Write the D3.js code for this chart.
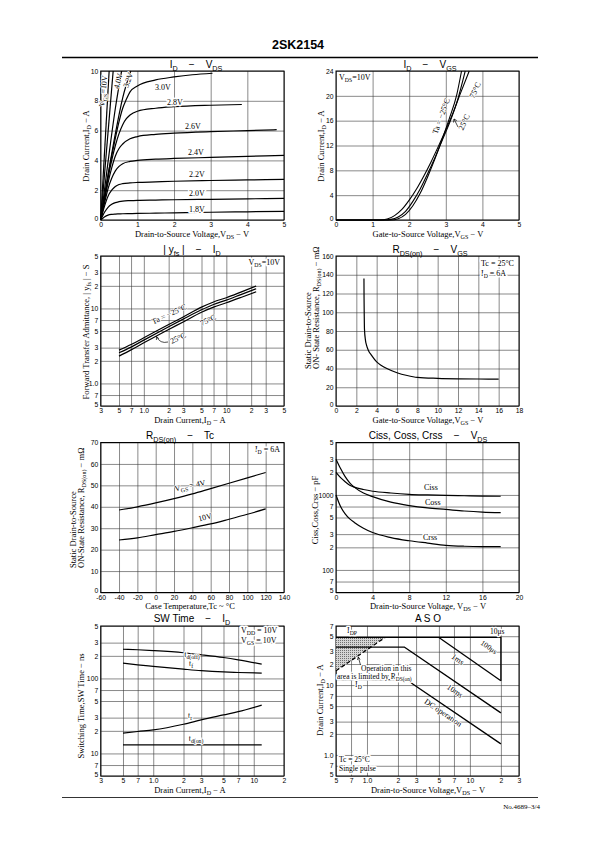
<!DOCTYPE html>
<html><head><meta charset="utf-8">
<script src="https://cdn.jsdelivr.net/npm/d3@7"></script>
<style>body{margin:0;background:#fff}svg{display:block}</style>
</head><body>
<script>
// ---------- DATA ----------
// Panel 1: ID - VDS (x: VDS [V], y: ID [A])
const p1Vgs18x = [0,0.1,0.2,0.3,0.4,0.5,0.6,0.8,1,1.5,2,3,4,5];
const p1Vgs18y = [0,0.2,0.33,0.38,0.4,0.41,0.42,0.43,0.44,0.46,0.48,0.52,0.55,0.58];
const p1Vgs20x = [0,0.1,0.2,0.3,0.4,0.5,0.6,0.8,1,1.5,2,3,4,5];
const p1Vgs20y = [0,0.5,0.85,1.05,1.17,1.23,1.27,1.3,1.32,1.34,1.36,1.39,1.42,1.45];
const p1Vgs22x = [0,0.1,0.2,0.3,0.4,0.5,0.6,0.8,1,1.5,2,3,4,5];
const p1Vgs22y = [0,0.9,1.6,2.0,2.25,2.38,2.44,2.49,2.52,2.56,2.6,2.65,2.69,2.73];
const p1Vgs24x = [0,0.1,0.2,0.3,0.4,0.5,0.6,0.8,1,1.5,2,3,4,5];
const p1Vgs24y = [0,1.1,2.1,2.8,3.3,3.6,3.78,3.93,4.0,4.08,4.13,4.2,4.27,4.34];
const p1Vgs26x = [0,0.1,0.2,0.3,0.4,0.5,0.6,0.8,1,1.5,2,3,4,4.8];
const p1Vgs26y = [0,1.3,2.5,3.5,4.3,4.8,5.1,5.45,5.6,5.75,5.83,5.93,6.0,6.06];
const p1Vgs28x = [0,0.1,0.2,0.3,0.4,0.5,0.6,0.7,0.8,1,1.5,2,3,3.85];
const p1Vgs28y = [0,1.4,2.8,4.0,5.0,5.8,6.4,6.8,7.05,7.3,7.5,7.6,7.7,7.75];
const p1Vgs30x = [0,0.1,0.2,0.3,0.4,0.5,0.6,0.7,0.8,1,1.5,2,2.5,3.05];
const p1Vgs30y = [0,1.5,3.0,4.3,5.5,6.6,7.5,8.1,8.6,9.0,9.4,9.6,9.75,9.85];
const p1Vgs32x = [0,0.2,0.4,0.6,0.82];
const p1Vgs32y = [0,3.0,5.8,8.2,10];
const p1Vgs40x = [0,0.2,0.4,0.57];
const p1Vgs40y = [0,3.9,7.5,10];
const p1Vgs60x = [0,0.34];
const p1Vgs60y = [0,10];
const p1Vgs10x = [0,0.23];
const p1Vgs10y = [0,10];
const p1XTicks = [0,1,2,3,4,5];
const p1YTicks = [0,2,4,6,8,10];

// Panel 2: ID - VGS
const p2TaM25x = [0,1.5,1.7,1.9,2.1,2.3,2.5,2.7,2.9,3.1,3.3,3.43];
const p2TaM25y = [0,0,0.2,0.9,2.3,4.3,6.9,9.8,13.0,16.4,20.2,24];
const p2Ta25x = [0,1.3,1.5,1.7,1.9,2.1,2.3,2.5,2.7,2.9,3.1,3.3,3.53];
const p2Ta25y = [0,0,0.1,0.5,1.4,3.0,5.0,7.4,10.0,12.8,15.6,18.9,24];
const p2Ta75x = [0,1.2,1.4,1.6,1.8,2.0,2.2,2.4,2.6,2.8,3.0,3.2,3.4,3.64];
const p2Ta75y = [0,0,0.15,0.7,1.7,3.2,5.0,7.1,9.4,11.9,14.5,17.3,20.4,24];
const p2XTicks = [0,1,2,3,4,5];
const p2YTicks = [0,4,8,12,16,20,24];

// Panel 3: |yfs| - ID
const p3Id = [0.5,0.7,1,2,3,5,7,10,15,23];
const p3TaM25 = [2.78,3.3,4.06,6.1,7.7,10.4,12.2,13.9,16.5,19.9];
const p3Ta25 = [2.56,3.05,3.78,5.7,7.2,9.6,11.3,12.9,15.3,18.3];
const p3Ta75 = [2.31,2.8,3.48,5.25,6.6,8.9,10.4,11.9,14.0,16.7];
const p3XTicks = [0.3,0.5,0.7,1,2,3,5,7,10,20,30,50];
const p3XLabels = ['3','5','7','1.0','2','3','5','7','10','2','3','5'];
const p3YTicks = [0.5,0.7,1,2,3,5,7,10,20,30,50];
const p3YLabels = ['5','7','1.0','2','3','5','7','10','2','3','5'];

// Panel 4: RDS(on) - VGS
const p4Vgs = [2.75,2.76,2.78,2.8,2.9,3.0,3.2,3.5,4,4.5,5,6,7,8,10,12,14,16];
const p4Rds = [136,115,95,82,70,65,59,54,47,43,40,35.5,32.5,30.5,29.5,29,28.8,28.6];
const p4XTicks = [0,2,4,6,8,10,12,14,16,18];
const p4YTicks = [0,20,40,60,80,100,120,140,160];

// Panel 5: RDS(on) - Tc
const p5Tc = [-40,-20,0,20,40,60,80,100,120];
const p5Vgs4 = [38.5,40,41.8,43.8,46,48.5,51,53.5,56];
const p5Vgs10 = [24.5,25.5,27,28.5,30.2,32,34.2,36.5,39];
const p5XTicks = [-60,-40,-20,0,20,40,60,80,100,120,140];
const p5YTicks = [0,10,20,30,40,50,60,70];

// Panel 6: Ciss, Coss, Crss - VDS
const p6Vds = [0,0.5,1,1.5,2,3,4,6,8,10,12,14,16,18];
const p6Ciss = [2000,1700,1500,1350,1270,1180,1120,1060,1020,1000,985,975,965,960];
const p6Coss = [3000,2250,1750,1450,1270,1060,950,800,720,670,640,610,590,580];
const p6Crss = [1000,700,560,480,430,360,315,270,245,228,213,207,205,205];
const p6XTicks = [0,4,8,12,16,20];
const p6YTicks = [50,70,100,200,300,500,700,1000,2000,3000,5000];
const p6YLabels = ['5','7','100','2','3','5','7','1000','2','3','5'];

// Panel 7: SW Time - ID
const p7Id = [0.5,0.7,1,2,3,5,7,12];
const p7TdOff = [245,241,235,220,207,190,177,155];
const p7Tf = [160,152,145,133,127,122,120,118];
const p7Tr = [18.6,19.6,20.6,24.5,28,32.6,36,44];
const p7TdOn = [13,13,13,13,13,13,13,13];
const p7XTicks = [0.3,0.5,0.7,1,2,3,5,7,10,20];
const p7XLabels = ['3','5','7','1.0','2','3','5','7','10','2'];
const p7YTicks = [5,7,10,20,30,50,70,100,200,300,500];
const p7YLabels = ['5','7','10','2','3','5','7','100','2','3','5'];

// Panel 8: ASO
const p8Us10x = [0.5,20,20];
const p8Us10y = [48,48,11.5];
const p8Ms1x = [5,20];
const p8Ms1y = [48,11.5];
const p8Ms10x = [0.5,2.3,20];
const p8Ms10y = [35,35,4.0];
const p8Dcx = [0.5,2.4,20];
const p8Dcy = [12,12,1.44];
const p8Rdsx = [0.5,1.5];
const p8Rdsy = [16,48];
const p8XTicks = [0.5,0.7,1,2,3,5,7,10,20,30];
const p8XLabels = ['5','7','1.0','2','3','5','7','10','2','3'];
const p8YTicks = [0.5,0.7,1,2,3,5,7,10,20,30,50,70];
const p8YLabels = ['5','7','1.0','2','3','5','7','10','2','3','5','7'];

// ---------- DRAWING ----------
const SANS = "'Liberation Sans', Arial, Helvetica, sans-serif";
const SERIF = "'Liberation Serif', 'Times New Roman', serif";
const svg = d3.select('body').append('svg').attr('width',595).attr('height',842);

function addText(g, x, y, str, o={}) {
  const size = o.size || 8;
  let ty = o.center ? y + size*0.35 : y;
  const t = g.append('text').attr('x', x).attr('y', ty)
    .attr('font-family', o.family || SERIF).attr('font-size', size)
    .attr('text-anchor', o.anchor || 'start').attr('fill', '#000')
    .style('white-space', 'pre');
  if (o.rotate) t.attr('transform', `rotate(${o.rotate},${x},${y})`);
  if (o.halo) t.attr('stroke', '#fff').attr('stroke-width', o.halo).attr('paint-order', 'stroke').attr('stroke-linejoin','round');
  if (o.weight) t.attr('font-weight', o.weight);
  const parts = str.split(/(_\{[^}]*\})/).filter(s => s.length);
  const sh = size * 0.28;
  let sub = false;
  parts.forEach(p => {
    if (p.startsWith('_{')) {
      t.append('tspan').attr('font-size', size*0.72).attr('dy', sub ? 0 : sh).text(p.slice(2, -1));
      sub = true;
    } else {
      const s = t.append('tspan').text(p);
      if (sub) { s.attr('dy', -sh); sub = false; }
    }
  });
  return t;
}

function panel(o) {
  const g = svg.append('g');
  const x = o.x, y = o.y;
  const [x0, x1] = x.range();
  const [y1, y0] = y.range();
  const xa = g.append('g').attr('transform', `translate(0,${y1})`)
    .call(d3.axisBottom(x).tickValues(o.xt).tickFormat((d, i) => o.xl ? o.xl[i] : d)
      .tickSize(-(y1 - y0)).tickPadding(2.5));
  const ya = g.append('g').attr('transform', `translate(${x0},0)`)
    .call(d3.axisLeft(y).tickValues(o.yt).tickFormat((d, i) => o.yl ? o.yl[i] : d)
      .tickSize(-(x1 - x0)).tickPadding(2.5));
  [xa, ya].forEach(a => {
    a.select('.domain').remove();
    a.selectAll('line').attr('stroke', '#3a3a3a').attr('stroke-width', 0.6);
    a.selectAll('text').attr('font-family', SANS).attr('font-size', 6.8).attr('fill', '#000');
  });
  // lift the lowest y label a little so it clears the first x label
  ya.selectAll('.tick').filter((d, i) => i === 0).select('text').attr('dy', '0.05em');
  g.append('rect').attr('x', x0).attr('y', y0).attr('width', x1 - x0).attr('height', y1 - y0)
    .attr('fill', 'none').attr('stroke', '#000').attr('stroke-width', 1);
  return g;
}

function curve(g, x, y, xs, ys, o={}) {
  const line = d3.line().x(d => x(d[0])).y(d => y(d[1])).curve(o.linear ? d3.curveLinear : d3.curveMonotoneX);
  const p = g.append('path').attr('d', line(d3.zip(xs, ys)))
    .attr('fill', 'none').attr('stroke', '#000').attr('stroke-width', o.w || 1.3)
    .attr('stroke-linejoin', 'round');
  if (o.dash) p.attr('stroke-dasharray', o.dash);
  return p;
}

// label placed along a straight segment (p1 -> p2), offset perpendicular
function lineLabel(g, x, y, p1, p2, t, str, off, size) {
  const X1 = x(p1[0]), Y1 = y(p1[1]), X2 = x(p2[0]), Y2 = y(p2[1]);
  const ang = Math.atan2(Y2 - Y1, X2 - X1) * 180 / Math.PI;
  const px = X1 + (X2 - X1) * t, py = Y1 + (Y2 - Y1) * t;
  const gg = g.append('g').attr('transform', `translate(${px},${py}) rotate(${ang})`);
  addText(gg, 0, off, str, {size, anchor: 'middle', center: true, halo: 1.5});
}

// page header / footer
addText(svg, 298, 49, '2SK2154', {family: SANS, size: 12.5, anchor: 'middle', weight: 'bold'});
svg.append('line').attr('x1', 62).attr('x2', 538).attr('y1', 57.5).attr('y2', 57.5).attr('stroke', '#000').attr('stroke-width', 1.3);
svg.append('line').attr('x1', 62).attr('x2', 538).attr('y1', 797.5).attr('y2', 797.5).attr('stroke', '#000').attr('stroke-width', 0.8);
addText(svg, 540, 809, 'No.4689–3/4', {size: 7, anchor: 'end'});

const C1 = [100.7, 284], C2 = [336, 519];
const R1 = [71, 220], R2 = [256, 406], R3 = [442.5, 592.5], R4 = [626, 776];

function titles(cx, by, str) { addText(svg, cx, by, str, {family: SANS, size: 10, anchor: 'middle'}); }
function xTitle(cx, by, str) { addText(svg, cx, by, str, {size: 8.5, anchor: 'middle'}); }
function yTitle(cx, cy, str, anchor='middle') { addText(svg, cx, cy, str, {size: 8.5, anchor, rotate: -90, center: true}); }

// ---- Panel 1 ----
{
  const x = d3.scaleLinear().domain([0, 5]).range(C1);
  const y = d3.scaleLinear().domain([0, 10]).range([R1[1], R1[0]]);
  const g = panel({x, y, xt: p1XTicks, yt: p1YTicks});
  [[p1Vgs18x,p1Vgs18y],[p1Vgs20x,p1Vgs20y],[p1Vgs22x,p1Vgs22y],[p1Vgs24x,p1Vgs24y],[p1Vgs26x,p1Vgs26y],
   [p1Vgs28x,p1Vgs28y],[p1Vgs30x,p1Vgs30y],[p1Vgs32x,p1Vgs32y],[p1Vgs40x,p1Vgs40y],[p1Vgs60x,p1Vgs60y],[p1Vgs10x,p1Vgs10y]]
    .forEach(c => curve(g, x, y, c[0], c[1], {w: 1.2}));
  const lab = [['3.0V',163,87],['2.8V',175,102],['2.6V',193,126],['2.4V',196,152],['2.2V',197,174],['2.0V',197,193],['1.8V',197,209]];
  lab.forEach(l => addText(g, l[1], l[2], l[0], {size: 8, anchor: 'middle', center: true, halo: 3}));
  addText(g, 103, 91, 'V_{GS}=10V', {size: 8, anchor: 'middle', center: true, rotate: -84, halo: 1.5});
  addText(g, 118, 81, '4.0V', {size: 8, anchor: 'middle', center: true, rotate: -76, halo: 1.5});
  addText(g, 128, 80, '3.2V', {size: 8, anchor: 'middle', center: true, rotate: -70, halo: 1.5});
  titles(196, 68, 'I_{D}    −    V_{DS}');
  xTitle(192, 237, 'Drain-to-Source Voltage,V_{DS} − V');
  yTitle(86, 146, 'Drain Current,I_{D} − A');
}

// ---- Panel 2 ----
{
  const x = d3.scaleLinear().domain([0, 5]).range(C2);
  const y = d3.scaleLinear().domain([0, 24]).range([R1[1], R1[0]]);
  const g = panel({x, y, xt: p2XTicks, yt: p2YTicks});
  curve(g, x, y, p2TaM25x, p2TaM25y, {w: 1.1});
  curve(g, x, y, p2Ta25x, p2Ta25y, {w: 1.1});
  curve(g, x, y, p2Ta75x, p2Ta75y, {w: 1.1});
  addText(g, 339, 80, 'V_{DS}=10V', {size: 8, halo: 3});
  addText(g, 441, 116, 'Ta = −25°C', {size: 8, anchor: 'middle', center: true, rotate: -70, halo: 1.2});
  addText(g, 464, 122, '25°C', {size: 8, anchor: 'middle', center: true, rotate: -65, halo: 1.2});
  addText(g, 475, 90, '75°C', {size: 8, anchor: 'middle', center: true, rotate: -65, halo: 1.2});
  g.append('path').attr('d', 'M458,127 L454,119 M454,119 L453.5,122.5 M454,119 L456.8,120.6').attr('stroke', '#000').attr('stroke-width', 0.7).attr('fill', 'none');
  titles(430, 68, 'I_{D}    −    V_{GS}');
  xTitle(428, 237, 'Gate-to-Source Voltage,V_{GS} − V');
  yTitle(321, 146, 'Drain Current,I_{D} − A');
}

// ---- Panel 3 ----
{
  const x = d3.scaleLog().domain([0.3, 50]).range(C1);
  const y = d3.scaleLog().domain([0.5, 50]).range([R2[1], R2[0]]);
  const g = panel({x, y, xt: p3XTicks, xl: p3XLabels, yt: p3YTicks, yl: p3YLabels});
  curve(g, x, y, p3Id, p3TaM25, {w: 1.2});
  curve(g, x, y, p3Id, p3Ta25, {w: 1.2});
  curve(g, x, y, p3Id, p3Ta75, {w: 1.2});
  addText(g, 280, 265, 'V_{DS}=10V', {size: 8, anchor: 'end', halo: 3});
  addText(g, 169, 314, 'Ta = −25°C', {size: 8, anchor: 'middle', center: true, rotate: -25, halo: 1.2});
  addText(g, 208, 320, '75°C', {size: 8, anchor: 'middle', center: true, rotate: -25, halo: 1.2});
  addText(g, 178, 338, '25°C', {size: 8, anchor: 'middle', center: true, rotate: -25, halo: 1.2});
  g.append('path').attr('d', 'M168,342 Q160,344 156.5,336.5 M156.5,336.5 L156.4,340 M156.5,336.5 L159,338.8').attr('stroke', '#000').attr('stroke-width', 0.7).attr('fill', 'none');
  titles(192, 253, '| y_{fs} |    −    I_{D}');
  xTitle(190, 423, 'Drain Current,I_{D} − A');
  yTitle(86, 332, 'Forward Transfer Admittance, | y_{fs} | − S');
}

// ---- Panel 4 ----
{
  const x = d3.scaleLinear().domain([0, 18]).range(C2);
  const y = d3.scaleLinear().domain([0, 160]).range([R2[1], R2[0]]);
  const g = panel({x, y, xt: p4XTicks, yt: p4YTicks});
  curve(g, x, y, p4Vgs, p4Rds, {w: 1.2});
  addText(g, 481, 266, 'Tc = 25°C', {size: 8, halo: 3});
  addText(g, 481, 276, 'I_{D} = 6A', {size: 8, halo: 3});
  titles(430, 253, 'R_{DS(on)}    −    V_{GS}');
  xTitle(428, 423, 'Gate-to-Source Voltage,V_{GS} − V');
  yTitle(308, 369, 'Static Drain-to-Source', 'start');
  yTitle(316, 369, 'ON- State Resistance, R_{DS(on)} − mΩ', 'start');
}

// ---- Panel 5 ----
{
  const x = d3.scaleLinear().domain([-60, 140]).range(C1);
  const y = d3.scaleLinear().domain([0, 70]).range([R3[1], R3[0]]);
  const g = panel({x, y, xt: p5XTicks, yt: p5YTicks});
  curve(g, x, y, p5Tc, p5Vgs4, {w: 1.2});
  curve(g, x, y, p5Tc, p5Vgs10, {w: 1.2});
  addText(g, 280, 452, 'I_{D} = 6A', {size: 8, anchor: 'end', halo: 3});
  addText(g, 190, 485.5, 'V_{GS} = 4V', {size: 8, anchor: 'middle', center: true, rotate: -12, halo: 1.2});
  addText(g, 205, 517, '10V', {size: 8, anchor: 'middle', center: true, rotate: -14, halo: 1.2});
  titles(180, 439, 'R_{DS(on)}    −    Tc');
  xTitle(190, 609, 'Case Temperature,Tc ~ °C');
  yTitle(73, 568, 'Static Drain-to-Source', 'start');
  yTitle(81, 568, 'ON-State Resistance, R_{DS(on)} − mΩ', 'start');
}

// ---- Panel 6 ----
{
  const x = d3.scaleLinear().domain([0, 20]).range(C2);
  const y = d3.scaleLog().domain([50, 5000]).range([R3[1], R3[0]]);
  const g = panel({x, y, xt: p6XTicks, yt: p6YTicks, yl: p6YLabels});
  curve(g, x, y, p6Vds, p6Ciss, {w: 1.2});
  curve(g, x, y, p6Vds, p6Coss, {w: 1.2});
  curve(g, x, y, p6Vds, p6Crss, {w: 1.2});
  addText(g, 424, 490, 'Ciss', {size: 8, halo: 3});
  addText(g, 425, 505, 'Coss', {size: 8, halo: 3});
  addText(g, 423, 540, 'Crss', {size: 8, halo: 3});
  titles(428, 439, 'Ciss, Coss, Crss    −    V_{DS}');
  xTitle(428, 609, 'Drain-to-Source Voltage, V_{DS} − V');
  yTitle(315, 510, 'Ciss,Coss,Crss − pF');
}

// ---- Panel 7 ----
{
  const x = d3.scaleLog().domain([0.3, 20]).range(C1);
  const y = d3.scaleLog().domain([5, 500]).range([R4[1], R4[0]]);
  const g = panel({x, y, xt: p7XTicks, xl: p7XLabels, yt: p7YTicks, yl: p7YLabels});
  curve(g, x, y, p7Id, p7TdOff, {w: 1.2});
  curve(g, x, y, p7Id, p7Tf, {w: 1.2});
  curve(g, x, y, p7Id, p7Tr, {w: 1.2});
  curve(g, x, y, p7Id, p7TdOn, {w: 1.2});
  addText(g, 241, 633, 'V_{DD} = 10V', {size: 8, halo: 3});
  addText(g, 241, 643, 'V_{GS} = 10V', {size: 8, halo: 3});
  addText(g, 192, 657, 't_{d(off)}', {size: 8, anchor: 'middle', halo: 2});
  addText(g, 191, 666, 't_{f}', {size: 8, anchor: 'middle', halo: 2});
  addText(g, 190, 718, 't_{r}', {size: 8, anchor: 'middle', halo: 2});
  addText(g, 196, 741, 't_{d(on)}', {size: 8, anchor: 'middle', halo: 2});
  titles(192, 622, 'SW Time    −    I_{D}');
  xTitle(190, 793, 'Drain Current,I_{D} − A');
  yTitle(81, 706, 'Switching Time,SW Time − ns');
}

// ---- Panel 8 ----
{
  const x = d3.scaleLog().domain([0.5, 30]).range(C2);
  const y = d3.scaleLog().domain([0.5, 70]).range([R4[1], R4[0]]);
  const g = panel({x, y, xt: p8XTicks, xl: p8XLabels, yt: p8YTicks, yl: p8YLabels});
  const defs = svg.append('defs');
  const pat = defs.append('pattern').attr('id', 'stip').attr('width', 2).attr('height', 2).attr('patternUnits', 'userSpaceOnUse');
  pat.append('rect').attr('width', 2).attr('height', 2).attr('fill', '#d4d4d4');
  pat.append('rect').attr('width', 1).attr('height', 1).attr('fill', '#707070');
  const tri = [[0.5, 48], [1.5, 48], [0.5, 16]];
  g.append('path').attr('d', d3.line().x(d => x(d[0])).y(d => y(d[1]))(tri) + 'Z').attr('fill', 'url(#stip)');
  curve(g, x, y, p8Us10x, p8Us10y, {linear: true, w: 1.3});
  curve(g, x, y, p8Ms1x, p8Ms1y, {linear: true, w: 1.3});
  curve(g, x, y, p8Ms10x, p8Ms10y, {linear: true, w: 1.3});
  curve(g, x, y, p8Dcx, p8Dcy, {linear: true, w: 1.3});
  curve(g, x, y, p8Rdsx, p8Rdsy, {linear: true, w: 1.3, dash: '4,2.5'});
  addText(g, 347, 633, 'I_{DP}', {size: 8, halo: 2.5});
  addText(g, 490, 634, '10μs', {size: 7.5, halo: 2.5});
  addText(g, 489, 647, '100μs', {size: 7.5, anchor: 'middle', center: true, rotate: 35, halo: 1.5});
  lineLabel(g, x, y, [p8Ms1x[0], p8Ms1y[0]], [p8Ms1x[1], p8Ms1y[1]], 0.37, '1ms', 7, 8);
  lineLabel(g, x, y, [p8Ms10x[1], p8Ms10y[1]], [p8Ms10x[2], p8Ms10y[2]], 0.57, '10ms', 7.5, 8);
  lineLabel(g, x, y, [p8Dcx[1], p8Dcy[1]], [p8Dcx[2], p8Dcy[2]], 0.43, 'DC operation', 6.5, 8);
  addText(g, 355, 687, 'I_{D}', {size: 8, halo: 2.5});
  addText(g, 361, 670.5, 'Operation in this', {size: 7.5, halo: 3});
  addText(g, 337, 678.5, 'area is limited by R_{DS(on)}', {size: 7.5, halo: 3});
  g.append('path').attr('d', 'M360.5,665 L358.3,657 M358.3,657 L357.4,660 M358.3,657 L360.2,659.4').attr('stroke', '#000').attr('stroke-width', 0.7).attr('fill', 'none');
  addText(g, 339, 762, 'Tc = 25°C', {size: 7.5, halo: 3});
  addText(g, 339, 771, 'Single pulse', {size: 7.5, halo: 3});
  titles(428, 622, 'A S O');
  xTitle(428, 793, 'Drain-to-Source Voltage,V_{DS} − V');
  yTitle(320, 700, 'Drain Current,I_{D} − A');
}
</script>
</body></html>
